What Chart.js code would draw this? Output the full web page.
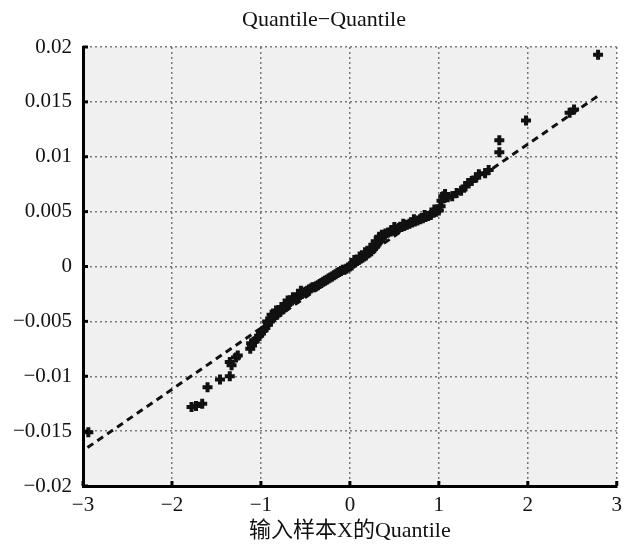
<!DOCTYPE html>
<html>
<head>
<meta charset="utf-8">
<script src="https://cdn.jsdelivr.net/npm/chart.js@4/dist/chart.umd.min.js"></script>
<style>
  html, body { margin: 0; padding: 0; background: #fff; }
  #wrap { width: 629px; height: 544px; }
</style>
</head>
<body>
<div id="wrap"><canvas id="qq" width="629" height="544"></canvas></div>
<script>
const chartTitle = 'Quantile\u2212Quantile';
const xTitle = '输入样本X的Quantile';

// theoretical quantiles (x) and sample quantiles (y)
const sampleX = [
    -2.94, -1.78, -1.73, -1.66, -1.60, -1.46, -1.35, -1.35, -1.33, -1.28, -1.26, -1.12, -1.11,
    -1.10, -1.07, -1.05, -1.02, -1.00, -0.97, -0.95, -0.92, -0.90, -0.87, -0.85, -0.82, -0.80,
    -0.78, -0.75, -0.73, -0.71, -0.69, -0.67, -0.65, -0.62, -0.60, -0.58, -0.56, -0.54, -0.52,
    -0.50, -0.48, -0.46, -0.44, -0.42, -0.40, -0.38, -0.36, -0.34, -0.32, -0.30, -0.28, -0.26,
    -0.24, -0.22, -0.20, -0.18, -0.16, -0.14, -0.12, -0.10, -0.08, -0.06, -0.04, -0.02, 0.00,
    0.02, 0.04, 0.06, 0.08, 0.10, 0.12, 0.14, 0.16, 0.18, 0.20, 0.22, 0.24, 0.26, 0.28, 0.30,
    0.32, 0.34, 0.36, 0.38, 0.40, 0.43, 0.46, 0.49, 0.52, 0.55, 0.58, 0.61, 0.64, 0.67, 0.70,
    0.73, 0.76, 0.79, 0.82, 0.85, 0.88, 0.91, 0.94, 0.97, 1.00,
    1.02, 1.03, 1.05, 1.07, 1.10, 1.15, 1.20, 1.25, 1.30, 1.33, 1.37, 1.42, 1.45, 1.52, 1.56,
    1.68, 1.68, 1.98, 2.47, 2.52, 2.79,
    -0.93, -0.88, -0.83, -0.77, -0.70, -0.64, -0.55, 0.05, 0.11, 0.17, 0.23, 0.29, 0.33, 0.36,
    0.50, 0.60, 0.72, 0.84, 0.95
];
const sampleY = [
    -0.0151, -0.0128, -0.0127, -0.0125, -0.0110, -0.0103, -0.0100, -0.0087, -0.0090, -0.0083, -0.0081, -0.0075, -0.0070,
    -0.0072, -0.0068, -0.0066, -0.0063, -0.0061, -0.0058, -0.0056, -0.0053, -0.0050, -0.0047, -0.0046, -0.0044, -0.0042,
    -0.0041, -0.0039, -0.0037, -0.0035, -0.0033, -0.0032, -0.0031, -0.0029, -0.0028, -0.0027, -0.0026, -0.0025, -0.0024,
    -0.0023, -0.0022, -0.0021, -0.0020, -0.0019, -0.0019, -0.0018, -0.0017, -0.0016, -0.0015, -0.0014, -0.0013, -0.0012,
    -0.0011, -0.0010, -0.0009, -0.0008, -0.0007, -0.0006, -0.0005, -0.0004, -0.0003, -0.0003, -0.0002, -0.0001, 0.0000,
    0.0001, 0.0003, 0.0004, 0.0005, 0.0006, 0.0007, 0.0008, 0.0009, 0.0010, 0.0012, 0.0013, 0.0014, 0.0016, 0.0018, 0.0020,
    0.0022, 0.0024, 0.0026, 0.0028, 0.0030, 0.0031, 0.0032, 0.0033, 0.0034, 0.0035, 0.0036, 0.0037, 0.0038, 0.0039, 0.0040,
    0.0041, 0.0042, 0.0043, 0.0044, 0.0045, 0.0046, 0.0047, 0.0049, 0.0050, 0.0051,
    0.0055, 0.0060, 0.0064, 0.0066, 0.0063, 0.0064, 0.0067, 0.0069, 0.0073, 0.0076, 0.0078, 0.0081, 0.0084, 0.0085, 0.0088,
    0.0104, 0.0115, 0.0133, 0.0140, 0.0143, 0.0193,
    -0.0050, -0.0044, -0.0040, -0.0037, -0.0031, -0.0028, -0.0022, 0.0006, 0.0009, 0.0013, 0.0017, 0.0023, 0.0027, 0.0029,
    0.0036, 0.0039, 0.0043, 0.0047, 0.0052
];

// dashed reference line end points
const refLineX = [-2.95, 2.78];
const refLineY = [-0.0165, 0.0155];

const serif = "'Liberation Serif', 'DejaVu Serif', 'Noto Sans CJK SC', serif";
const minus = s => String(s).replace('-', '\u2212');

const scatterPts = sampleX.map((x, i) => ({ x: x, y: sampleY[i] }));
const linePts = refLineX.map((x, i) => ({ x: x, y: refLineY[i] }));

// grey plot background
const plotBg = {
    id: 'plotBg',
    beforeDraw(chart) {
        const { ctx, chartArea: a } = chart;
        ctx.save();
        ctx.fillStyle = '#f0f0f0';
        ctx.fillRect(a.left, a.top, a.right - a.left, a.bottom - a.top);
        ctx.restore();
    }
};

// title sits a bit right of the canvas centre in the original
const titleShift = {
    id: 'titleShift',
    afterLayout(chart) {
        if (chart.titleBlock) chart.titleBlock.left = 30;
    }
};

// short black ticks pointing into the plot
const innerTicks = {
    id: 'innerTicks',
    afterDraw(chart) {
        const { ctx, chartArea: a, scales } = chart;
        ctx.save();
        ctx.strokeStyle = '#000';
        ctx.lineWidth = 3;
        scales.x.ticks.forEach(t => {
            const px = scales.x.getPixelForValue(t.value);
            ctx.beginPath();
            ctx.moveTo(px, a.bottom);
            ctx.lineTo(px, a.bottom - 5);
            ctx.stroke();
        });
        scales.y.ticks.forEach(t => {
            const py = scales.y.getPixelForValue(t.value);
            ctx.beginPath();
            ctx.moveTo(a.left, py);
            ctx.lineTo(a.left + 5, py);
            ctx.stroke();
        });
        ctx.restore();
    }
};

new Chart(document.getElementById('qq'), {
    data: {
        datasets: [
            {
                type: 'scatter',
                data: scatterPts,
                pointStyle: 'cross',
                pointRadius: 5,
                pointBorderWidth: 4,
                borderColor: '#111',
                backgroundColor: '#111'
            },
            {
                type: 'line',
                data: linePts,
                borderColor: '#111',
                borderWidth: 3,
                borderDash: [7, 5],
                pointRadius: 0,
                fill: false
            }
        ]
    },
    options: {
        responsive: false,
        animation: false,
        layout: { padding: { right: 11 } },
        plugins: {
            legend: { display: false },
            tooltip: { enabled: false },
            title: {
                display: true,
                text: chartTitle,
                color: '#111',
                font: { family: serif, size: 22, weight: 'normal' },
                padding: { top: 7, bottom: 13.6 }
            }
        },
        scales: {
            x: {
                type: 'linear',
                min: -3,
                max: 3,
                ticks: {
                    stepSize: 1,
                    color: '#111',
                    padding: 7,
                    font: { family: serif, size: 21 },
                    callback: v => minus(v)
                },
                grid: { color: 'rgba(90,90,90,0.8)', lineWidth: 1.5, drawTicks: false },
                border: { display: true, color: '#000', width: 3, dash: [2, 3] },
                title: {
                    display: true,
                    text: xTitle,
                    color: '#111',
                    font: { family: serif, size: 22 },
                    padding: { top: 0, bottom: 0 }
                },
                afterFit: s => { s.height = 58; }
            },
            y: {
                type: 'linear',
                min: -0.02,
                max: 0.02,
                ticks: {
                    stepSize: 0.005,
                    color: '#111',
                    padding: 11,
                    font: { family: serif, size: 21 },
                    callback: v => minus(Number(v.toFixed(3)))
                },
                grid: { color: 'rgba(90,90,90,0.8)', lineWidth: 1.5, drawTicks: false },
                border: { display: true, color: '#000', width: 3, dash: [2, 3] },
                afterFit: s => { s.width = 83; }
            }
        }
    },
    plugins: [plotBg, titleShift, innerTicks]
});
</script>
</body>
</html>
